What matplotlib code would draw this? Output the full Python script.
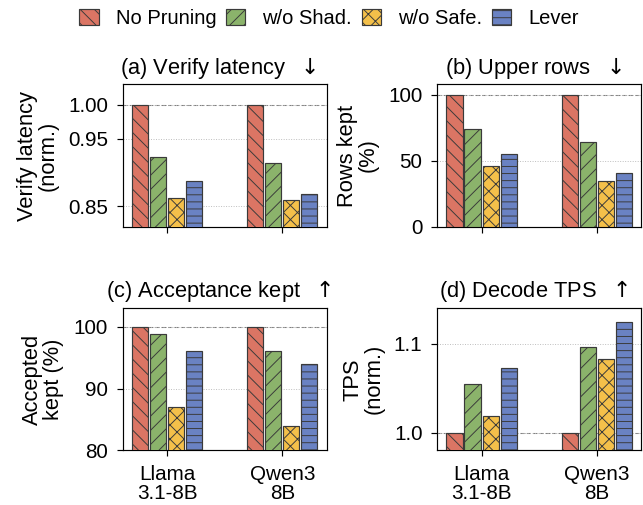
import matplotlib
matplotlib.use("Agg")
import matplotlib.pyplot as plt
import numpy as np
from matplotlib.patches import Patch

plt.rcParams["font.family"] = ["Liberation Sans", "DejaVu Sans"]
plt.rcParams["mathtext.fontset"] = "dejavusans"
plt.rcParams["hatch.color"] = "#333333"
plt.rcParams["hatch.linewidth"] = 0.8

# data
models = ["Llama\n3.1-8B", "Qwen3\n8B"]
methods = ["No Pruning", "w/o Shad.", "w/o Safe.", "Lever"]

verify_latency = [[1.00, 1.00], [0.923, 0.914], [0.862, 0.859], [0.888, 0.868]]
rows_kept = [[100, 100], [74, 64], [46, 35], [55, 41]]
accept_kept = [[100, 100], [98.8, 96.0], [87.0, 84.0], [96.0, 94.0]]
decode_tps = [[1.00, 1.00], [1.055, 1.096], [1.019, 1.083], [1.073, 1.124]]

colors = ["#DB7564", "#8BB36B", "#F4C04A", "#6A82C3"]
hatches = ["\\\\", "//", "xx", "--"]

panels = [
    ("(a) Verify latency  $\\downarrow$", "Verify latency\n(norm.)", verify_latency,
     (0.82, 1.03), [0.85, 0.95, 1.00], "{:.2f}", 1.0),
    ("(b) Upper rows  $\\downarrow$", "Rows kept\n(%)", rows_kept,
     (0, 108), [0, 50, 100], "{:.0f}", 100),
    ("(c) Acceptance kept  $\\uparrow$", "Accepted\nkept (%)", accept_kept,
     (80, 103), [80, 90, 100], "{:.0f}", 100),
    ("(d) Decode TPS  $\\uparrow$", "TPS\n(norm.)", decode_tps,
     (0.98, 1.14), [1.0, 1.1], "{:.1f}", 1.0),
]

DPI = 85
fig = plt.figure(figsize=(643 / DPI, 505 / DPI), dpi=DPI)
boxes = [
    [0.191, 0.551, 0.317, 0.282],
    [0.680, 0.551, 0.317, 0.282],
    [0.191, 0.108, 0.317, 0.282],
    [0.680, 0.108, 0.317, 0.282],
]

x = np.arange(len(models))
step = 0.157
width = 0.14
fs_title = 18.5
fs_tick = 17.5
fs_leg = 17

for k, (title, ylabel, vals, ylim, yticks, fmt, base) in enumerate(panels):
    ax = fig.add_axes(boxes[k])
    for i in range(len(methods)):
        ax.bar(x + (i - 1.5) * step, vals[i], width, color=colors[i],
               hatch=hatches[i], edgecolor="#3a3a3a", linewidth=1.0,
               zorder=3)
    ax.set_ylim(*ylim)
    ax.set_xlim(-0.385, 1.385)
    ax.set_yticks(yticks)
    ax.set_yticklabels([fmt.format(t) for t in yticks], fontsize=fs_tick)
    ax.set_xticks(x)
    if k >= 2:
        ax.set_xticklabels(models, fontsize=fs_tick, linespacing=1.0)
    else:
        ax.set_xticklabels([])
    ax.yaxis.grid(True, linestyle=":", color="#bbbbbb", linewidth=0.8, zorder=0)
    ax.axhline(base, linestyle=(0, (4, 2)), color="#808080", linewidth=0.9, zorder=1)
    ax.set_title(title, fontsize=fs_title, pad=9, x=0.47)
    ax.set_ylabel(ylabel, fontsize=fs_title, linespacing=1.0, labelpad=8)
    ax.tick_params(direction="out", length=5.5, width=1, pad=7)
    for s in ax.spines.values():
        s.set_linewidth(1.0)

handles = [Patch(facecolor=colors[i], hatch=hatches[i], edgecolor="#3a3a3a",
                 label=methods[i]) for i in range(len(methods))]
fig.legend(handles=handles, loc="upper center", bbox_to_anchor=(0.512, 1.018),
           ncol=4, frameon=False, fontsize=fs_leg, handlelength=0.95,
           handleheight=0.8, columnspacing=0.5, handletextpad=0.85)

fig.savefig("out.png", dpi=DPI)
